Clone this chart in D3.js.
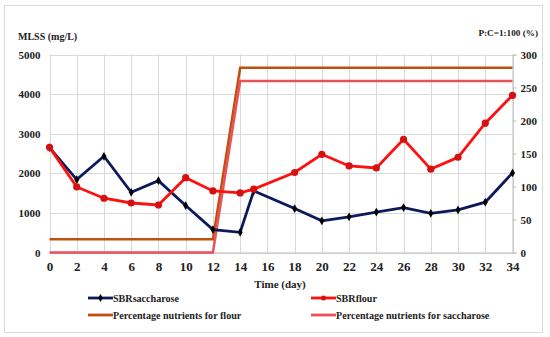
<!DOCTYPE html>
<html><head><meta charset="utf-8">
<script src="https://cdn.jsdelivr.net/npm/d3@7"></script>
<style>body{margin:0;background:#fff}svg{display:block}</style>
</head><body><svg id="c" width="550" height="337" font-family="Liberation Serif" font-weight="bold"></svg>
<script>
const days = [0,2,4,6,8,10,12,14,15,18,20,22,24,26,28,30,32,34];
const saccharose = [2650,1840,2430,1520,1815,1185,580,510,1555,1110,800,900,1020,1135,990,1075,1270,2010];
const flour = [2655,1655,1370,1250,1200,1890,1555,1505,1600,2020,2480,2185,2135,2860,2105,2405,3265,3970];
const pctDays = [0,2,4,6,8,10,12,14,16,18,20,22,24,26,28,30,32,34];
const pctFlour = [20,20,20,20,20,20,20,280,280,280,280,280,280,280,280,280,280,280];
const pctSacch = [0,0,0,0,0,0,0,260,260,260,260,260,260,260,260,260,260,260];
const xTicks = [0,2,4,6,8,10,12,14,16,18,20,22,24,26,28,30,32,34];
const yLeftTicks = [0,1000,2000,3000,4000,5000];
const yRightTicks = [0,50,100,150,200,250,300];

const FF = "Liberation Serif";
const svg = d3.select("#c");
svg.append("rect").attr("x",4.5).attr("y",5.5).attr("width",538).attr("height",327).attr("fill","#fff").attr("stroke","#d9d9d9");

const x = d3.scaleLinear().domain([0,34]).range([49.5,512.5]);
const yL = d3.scaleLinear().domain([0,5000]).range([252.5,54.5]);
const yR = d3.scaleLinear().domain([0,300]).range([252.5,54.5]);

const g = svg.append("g");
g.selectAll(".vg").data(xTicks).join("line").attr("x1",d=>Math.round(x(d))+0.5).attr("x2",d=>Math.round(x(d))+0.5).attr("y1",yL(5000)).attr("y2",yL(0)).attr("stroke","#d9d9d9");
g.selectAll(".hg").data(yLeftTicks).join("line").attr("x1",x(0)).attr("x2",x(34)).attr("y1",d=>Math.round(yL(d))+0.5).attr("y2",d=>Math.round(yL(d))+0.5).attr("stroke","#d9d9d9");

function style(sel,size){ sel.selectAll("text").attr("font-family",FF).attr("font-weight","bold").attr("fill","#222").style("font-size",size); }
const ax = svg.append("g").attr("transform",`translate(0,${yL(0)})`).call(d3.axisBottom(x).tickValues(xTicks).tickSize(0).tickPadding(9).tickFormat(d3.format("d")));
ax.select(".domain").attr("stroke","#bfbfbf");
style(ax,"13px");
const al = svg.append("g").attr("transform",`translate(${x(0)},0)`).call(d3.axisLeft(yL).tickValues(yLeftTicks).tickSize(0).tickPadding(9).tickFormat(d3.format("d")));
al.select(".domain").remove();
style(al,"11px");
const ar = svg.append("g").attr("transform",`translate(${x(34)},0)`).call(d3.axisRight(yR).tickValues(yRightTicks).tickSize(4).tickPadding(4).tickFormat(d3.format("d")));
ar.select(".domain").attr("stroke","#bfbfbf");
ar.selectAll("line").attr("stroke","#bfbfbf");
style(ar,"11px");

const T = (xx,yy,s,t,anchor)=>svg.append("text").attr("x",xx).attr("y",yy).attr("text-anchor",anchor||"start").attr("font-family",FF).attr("font-weight","bold").attr("fill","#222").style("font-size",s).text(t);
T(18,40,"10px","MLSS (mg/L)");
T(538,36,"9.2px","P:C=1:100 (%)","end");
T(280,288,"11px","Time (day)","middle");

const lineL = (ys)=>d3.line().x((d,i)=>x(days[i])).y(d=>yL(d))(ys);
const lineP = (ys)=>d3.line().x((d,i)=>x(pctDays[i])).y(d=>yR(d))(ys);
svg.append("path").attr("d",lineP(pctFlour)).attr("fill","none").attr("stroke","#c0500e").attr("stroke-width",2.5);
svg.append("path").attr("d",lineP(pctSacch)).attr("fill","none").attr("stroke","#e8525a").attr("stroke-width",2.5);
svg.append("path").attr("d",lineL(saccharose)).attr("fill","none").attr("stroke","#0c1a5c").attr("stroke-width",2.8);
svg.append("path").attr("d",lineL(flour)).attr("fill","none").attr("stroke","#ff1010").attr("stroke-width",2.8);
svg.selectAll(".ms").data(saccharose).join("path").attr("d",d3.symbol(d3.symbolDiamond,22)).attr("transform",(d,i)=>`translate(${x(days[i])},${yL(d)})`).attr("fill","#000");
svg.selectAll(".mf").data(flour).join("circle").attr("cx",(d,i)=>x(days[i])).attr("cy",d=>yL(d)).attr("r",3.6).attr("fill","#d41010");

const leg = [
  {t:"SBRsaccharose",c:"#0c1a5c",m:"d",x:88,y:298},
  {t:"SBRflour",c:"#ff1010",m:"c",x:311,y:298},
  {t:"Percentage nutrients for flour",c:"#c0500e",m:null,x:88,y:315},
  {t:"Percentage nutrients for saccharose",c:"#e8525a",m:null,x:311,y:315}
];
const lg = svg.selectAll(".lg").data(leg).join("g");
lg.append("line").attr("x1",d=>d.x).attr("x2",d=>d.x+25).attr("y1",d=>d.y).attr("y2",d=>d.y).attr("stroke",d=>d.c).attr("stroke-width",2.8);
lg.filter(d=>d.m==="d").append("path").attr("d",d3.symbol(d3.symbolDiamond,18)).attr("transform",d=>`translate(${d.x+12.5},${d.y})`).attr("fill","#000");
lg.filter(d=>d.m==="c").append("circle").attr("cx",d=>d.x+12.5).attr("cy",d=>d.y).attr("r",2.5).attr("fill","#d41010");
lg.append("text").attr("x",d=>d.x+25).attr("y",d=>d.y+3.5).attr("font-family",FF).attr("font-weight","bold").attr("fill","#222").style("font-size","10.1px").text(d=>d.t);
</script></body></html>
